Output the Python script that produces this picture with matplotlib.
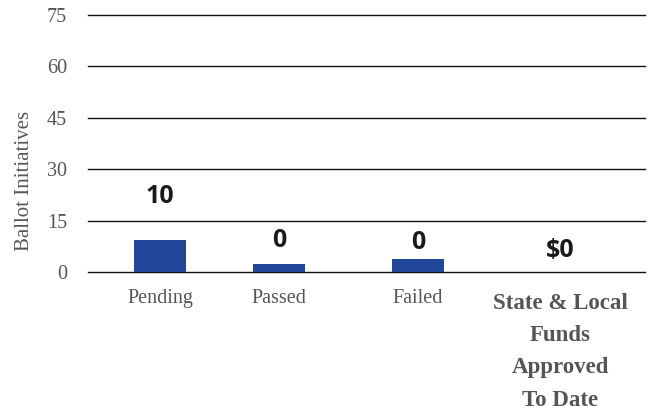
import matplotlib.pyplot as plt

categories = ["Pending", "Passed", "Failed", "State & Local\nFunds\nApproved\nTo Date"]
bar_values = [9.2, 2.2, 3.8, 0]
value_labels = ["10", "0", "0", "$0"]
label_heights = [22.0, 9.3, 8.5, 6.4]
yticks = [0, 15, 30, 45, 60, 75]

x_pos = [160, 279, 418, 560]

fig = plt.figure(figsize=(6.56, 4.11), dpi=100)
ax = fig.add_axes([88 / 656, 1 - 272 / 411, (645 - 88) / 656, (272 - 15) / 411])

ax.bar(x_pos, bar_values, width=52, color="#21479b", zorder=3)
for x, h, lab in zip(x_pos, label_heights, value_labels):
    ax.text(x, h, lab, ha="center", va="center", fontsize=18,
            fontweight="bold", family="Open Sans", color="#1a1a1a")

ax.set_xlim(88, 645)
ax.set_ylim(0, 75)
ax.set_yticks(yticks)
ax.yaxis.grid(True, color="#111111", linewidth=1.0)
for gl in ax.yaxis.get_gridlines():
    gl.set_clip_on(False)
ax.set_axisbelow(True)
for s in ax.spines.values():
    s.set_visible(False)
ax.tick_params(axis="y", length=0, pad=15, labelsize=14.5, labelcolor="#555555")
for t in ax.get_yticklabels():
    t.set_family("Liberation Serif")

ax.set_xticks(x_pos[:3])
ax.set_xticklabels(categories[:3], family="Liberation Serif", fontsize=14.5,
                   color="#555555")
ax.tick_params(axis="x", length=0, pad=12.5)
ax.text(x_pos[3], -6.0, categories[3], ha="center", va="top", fontsize=16.5,
        fontweight="bold", family="Liberation Serif", color="#555555",
        linespacing=1.71)

fig.text(25 / 656, 1 - 181 / 411, "Ballot Initiatives", rotation=90,
         ha="center", va="center", fontsize=15, family="Liberation Serif",
         color="#555555")

fig.savefig("out.png", dpi=100)
